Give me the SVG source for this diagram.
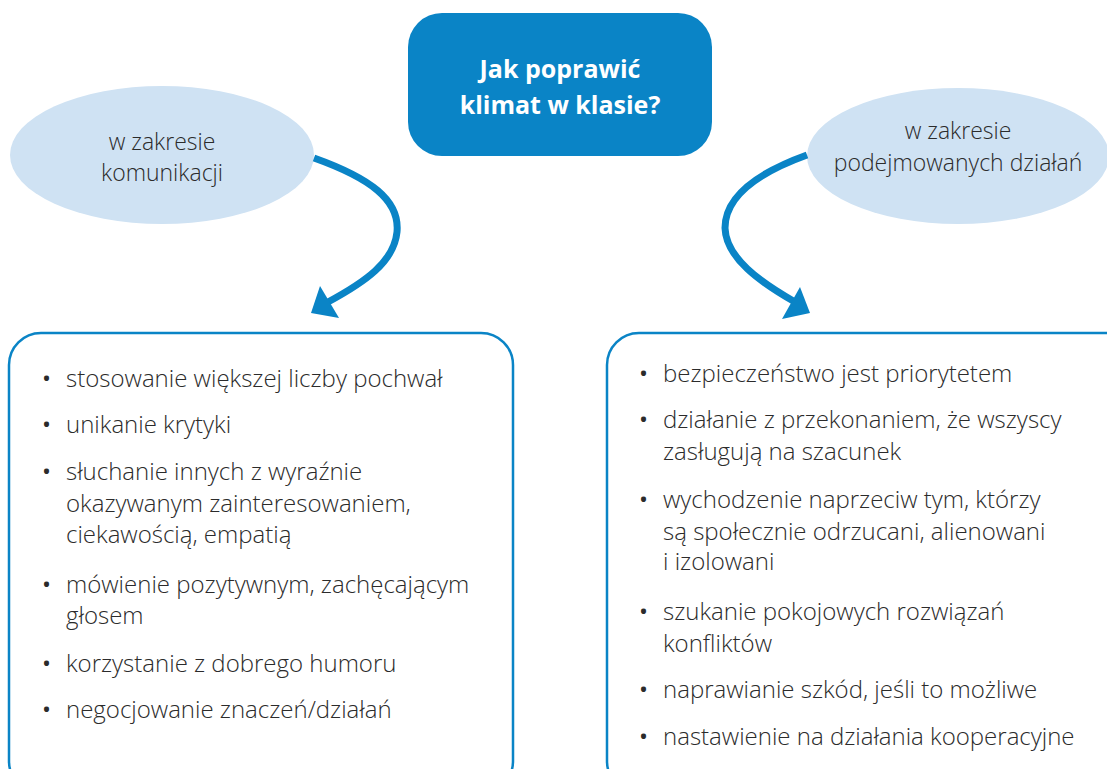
<svg xmlns="http://www.w3.org/2000/svg" width="1107" height="769" viewBox="0 0 1107 769">
<style>
.t{font-family:"Open Sans","Liberation Sans",sans-serif;font-size:24px;font-weight:300;fill:#2b2b2b}
.c{text-anchor:middle}
.e{font-size:23px}
.h{font-family:"Open Sans","Liberation Sans",sans-serif;font-size:25px;font-weight:700;fill:#ffffff;text-anchor:middle}
.box{fill:#ffffff;stroke:#0a84c6;stroke-width:2.5}
.ell{fill:#cfe2f3}
.conn{fill:none;stroke:#0a84c6;stroke-width:7;stroke-linecap:butt}
.head{fill:#0a84c6}
.b{font-weight:400}
</style>
<rect width="1107" height="769" fill="#ffffff"/>
<g id="title">
<rect x="408" y="13" width="304" height="143" rx="34" fill="#0a84c6"/>
<text class="h" x="560" y="78">Jak poprawić</text>
<text class="h" x="560" y="114">klimat w klasie?</text>
</g>
<g id="left-ellipse">
<ellipse class="ell" cx="162" cy="155" rx="152" ry="69"/>
<text class="t c e" x="162" y="150">w zakresie</text>
<text class="t c e" x="162" y="181">komunikacji</text>
</g>
<g id="right-ellipse">
<ellipse class="ell" cx="958" cy="156" rx="151" ry="68"/>
<text class="t c e" x="958" y="139">w zakresie</text>
<text class="t c e" x="958" y="171">podejmowanych działań</text>
</g>
<g id="connectors">
<path class="conn" d="M 314 158 C 370 178, 400 200, 397 232 C 394 262, 365 282, 328 302"/>
<polygon class="head" points="311,313 320,286 339,318"/>
<path class="conn" d="M 807 155 C 760 172, 725 195, 725 228 C 726 258, 760 282, 795 302"/>
<polygon class="head" points="782,319 800,287 810,313"/>
</g>
<g id="left-box">
<rect class="box" x="9" y="333" width="504" height="460" rx="32"/>
<g class="t">
<text class="b" x="42" y="387">•</text><text x="66" y="387">stosowanie większej liczby pochwał</text>
<text class="b" x="42" y="433">•</text><text x="66" y="433">unikanie krytyki</text>
<text class="b" x="42" y="480">•</text><text x="66" y="480">słuchanie innych z wyraźnie</text>
<text x="66" y="512">okazywanym zainteresowaniem,</text>
<text x="66" y="543">ciekawością, empatią</text>
<text class="b" x="42" y="593">•</text><text x="66" y="593">mówienie pozytywnym, zachęcającym</text>
<text x="66" y="624">głosem</text>
<text class="b" x="42" y="672">•</text><text x="66" y="672">korzystanie z dobrego humoru</text>
<text class="b" x="42" y="718">•</text><text x="66" y="718">negocjowanie znaczeń/działań</text>
</g>
</g>
<g id="right-box">
<rect class="box" x="607" y="333" width="530" height="460" rx="32"/>
<g class="t">
<text class="b" x="639" y="382">•</text><text x="663" y="382">bezpieczeństwo jest priorytetem</text>
<text class="b" x="639" y="428">•</text><text x="663" y="428">działanie z przekonaniem, że wszyscy</text>
<text x="663" y="460">zasługują na szacunek</text>
<text class="b" x="639" y="508">•</text><text x="663" y="508">wychodzenie naprzeciw tym, którzy</text>
<text x="663" y="540">są społecznie odrzucani, alienowani</text>
<text x="663" y="570">i izolowani</text>
<text class="b" x="639" y="620">•</text><text x="663" y="620">szukanie pokojowych rozwiązań</text>
<text x="663" y="652">konfliktów</text>
<text class="b" x="639" y="698">•</text><text x="663" y="698">naprawianie szkód, jeśli to możliwe</text>
<text class="b" x="639" y="745">•</text><text x="663" y="745">nastawienie na działania kooperacyjne</text>
</g>
</g>
</svg>
